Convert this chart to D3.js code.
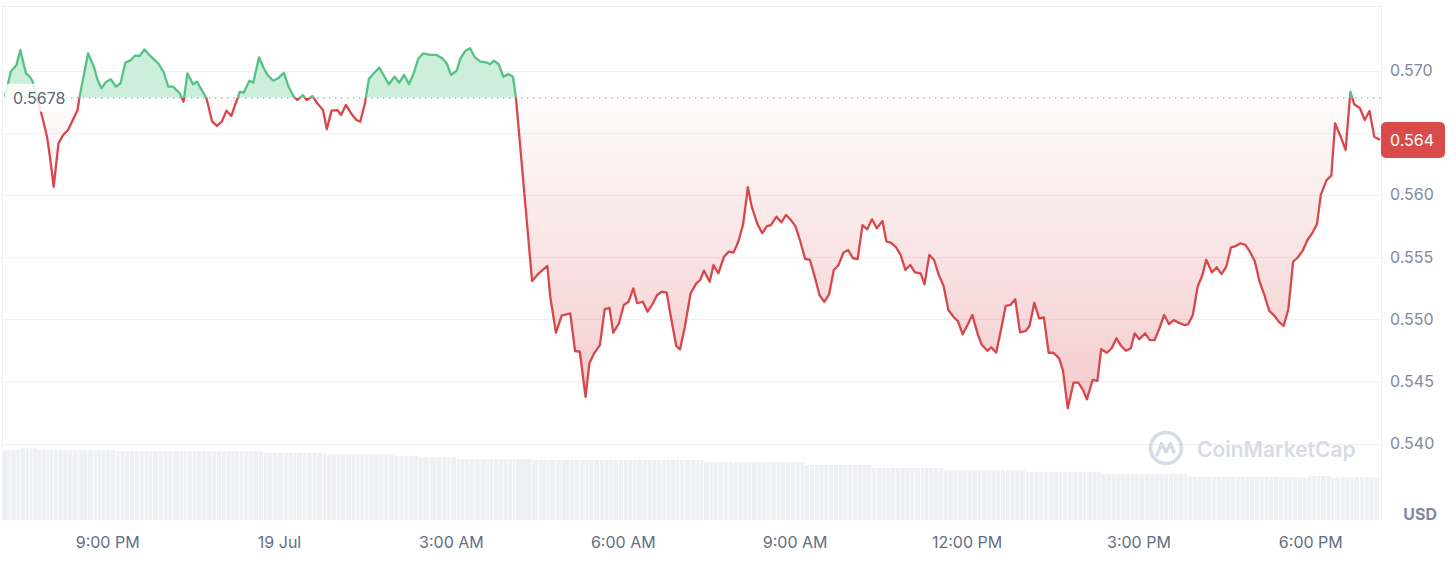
<!DOCTYPE html>
<html>
<head>
<meta charset="utf-8">
<script src="https://cdn.jsdelivr.net/npm/d3@7"></script>
<style>
  html, body { margin: 0; padding: 0; background: #ffffff; }
  svg { display: block; font-family: Inter, "Noto Sans", sans-serif; }
</style>
</head>
<body>
<script>
// ---------- DATA ----------
const startTime = new Date(2024, 6, 18, 19, 13); // 18 Jul 19:13, 24h window
const windowMinutes = 1440;
const openPrice = 0.5678;
const lastPriceLabel = "0.564";
const currencyLabel = "USD";
const watermarkText = "CoinMarketCap";

// minutes since startTime
const minutes = [
  0,6,12,16,22,26,29,34,39,44,
  47,51,56,61,66,71,76,78,87,93,
  97,101,106,111,116,121,126,131,136,141,
  146,151,155,161,166,171,176,183,187,191,
  197,201,206,211,217,222,227,232,237,241,
  246,250,256,260,266,271,275,281,286,292,
  297,302,306,312,316,322,327,333,337,342,
  348,352,357,363,368,372,377,381,386,392,
  397,402,408,413,418,423,428,433,438,445,
  452,458,463,467,473,477,482,487,492,498,
  505,508,512,517,522,527,532,535,552,559,
  568,571,577,583,592,597,602,608,612,617,
  623,628,633,637,643,648,653,658,662,668,
  673,678,683,688,693,697,703,707,712,718,
  724,728,732,738,742,747,753,758,763,768,
  773,778,782,788,793,798,802,808,813,818,
  823,828,833,838,843,848,853,858,863,868,
  873,878,883,888,893,898,903,908,913,919,
  923,928,933,938,943,948,953,959,963,968,
  973,978,983,988,994,998,1003,1008,1013,1019,
  1023,1029,1033,1038,1043,1048,1053,1058,1063,1069,
  1073,1078,1083,1088,1093,1098,1104,1108,1113,1119,
  1124,1129,1133,1139,1144,1148,1154,1159,1164,1169,
  1174,1179,1183,1188,1194,1199,1204,1209,1214,1219,
  1224,1229,1235,1239,1244,1249,1254,1258,1264,1269,
  1274,1279,1284,1289,1294,1299,1304,1309,1314,1319,
  1324,1329,1334,1339,1344,1349,1354,1359,1364,1369,
  1374,1378,1384,1389,1393,1399,1404,1409,1413,1419,
  1424,1429,1434,1440
];

const prices = [
  0.56789,0.56990,0.57044,0.57165,0.56977,0.56950,0.56910,0.56763,0.56628,0.56468,
  0.56307,0.56065,0.56414,0.56481,0.56521,0.56602,0.56682,0.56784,0.57138,0.57031,
  0.56924,0.56857,0.56910,0.56929,0.56870,0.56897,0.57063,0.57079,0.57119,0.57117,
  0.57170,0.57125,0.57098,0.57052,0.56990,0.56870,0.56870,0.56817,0.56749,0.56977,
  0.56889,0.56910,0.56843,0.56776,0.56588,0.56554,0.56588,0.56677,0.56634,0.56723,
  0.56830,0.56821,0.56918,0.56902,0.57106,0.57018,0.56964,0.56918,0.56937,0.56982,
  0.56870,0.56795,0.56763,0.56801,0.56763,0.56795,0.56736,0.56682,0.56527,0.56677,
  0.56682,0.56642,0.56723,0.56650,0.56602,0.56588,0.56736,0.56929,0.56976,0.57023,
  0.56956,0.56889,0.56950,0.56902,0.56964,0.56891,0.56977,0.57098,0.57138,0.57125,
  0.57125,0.57098,0.57052,0.56964,0.56998,0.57098,0.57157,0.57179,0.57106,0.57071,
  0.57063,0.57050,0.57079,0.57050,0.56950,0.56972,0.56950,0.56787,0.55307,0.55369,
  0.55428,0.55181,0.54891,0.55028,0.55047,0.54744,0.54738,0.54376,0.54645,0.54725,
  0.54792,0.55079,0.55092,0.54891,0.54967,0.55114,0.55140,0.55248,0.55128,0.55140,
  0.55060,0.55120,0.55194,0.55221,0.55213,0.55034,0.54784,0.54758,0.54939,0.55208,
  0.55288,0.55315,0.55390,0.55301,0.55436,0.55369,0.55502,0.55543,0.55535,0.55623,
  0.55763,0.56061,0.55905,0.55765,0.55691,0.55749,0.55757,0.55824,0.55779,0.55838,
  0.55798,0.55744,0.55623,0.55484,0.55476,0.55342,0.55194,0.55140,0.55200,0.55395,
  0.55436,0.55535,0.55556,0.55490,0.55484,0.55757,0.55723,0.55803,0.55731,0.55790,
  0.55626,0.55613,0.55580,0.55516,0.55395,0.55436,0.55377,0.55369,0.55280,0.55516,
  0.55476,0.55355,0.55267,0.55074,0.55012,0.54985,0.54878,0.54953,0.55034,0.54873,
  0.54792,0.54746,0.54774,0.54730,0.54913,0.55106,0.55114,0.55160,0.54894,0.54905,
  0.54947,0.55132,0.55007,0.55015,0.54730,0.54730,0.54685,0.54586,0.54283,0.54489,
  0.54489,0.54430,0.54355,0.54511,0.54503,0.54758,0.54730,0.54766,0.54846,0.54784,
  0.54746,0.54766,0.54886,0.54838,0.54886,0.54832,0.54832,0.54927,0.55034,0.54961,
  0.54993,0.54972,0.54953,0.54959,0.55034,0.55261,0.55355,0.55478,0.55375,0.55417,
  0.55362,0.55422,0.55578,0.55588,0.55610,0.55597,0.55540,0.55462,0.55299,0.55194,
  0.55066,0.55031,0.54980,0.54945,0.55079,0.55462,0.55498,0.55551,0.55637,0.55691,
  0.55765,0.55999,0.56119,0.56154,0.56575,0.56463,0.56361,0.56830,0.56728,0.56696,
  0.56602,0.56674,0.56468,0.56441
];

// relative volume units
const volumes = [
  1400,1400,1400,1434,1434,1434,1434,1400,1400,1400,
  1400,1400,1400,1400,1400,1400,1400,1400,1400,1400,
  1400,1400,1400,1400,1380,1380,1380,1380,1380,1380,
  1380,1380,1380,1380,1380,1380,1380,1380,1380,1380,
  1380,1380,1380,1380,1380,1380,1380,1380,1380,1380,
  1380,1380,1380,1380,1380,1346,1346,1346,1346,1346,
  1346,1346,1346,1346,1346,1346,1346,1346,1314,1314,
  1314,1314,1314,1314,1314,1314,1314,1314,1314,1314,
  1314,1314,1286,1286,1286,1286,1286,1254,1254,1254,
  1254,1254,1254,1254,1220,1220,1220,1220,1220,1220,
  1220,1220,1220,1220,1220,1220,1220,1220,1200,1200,
  1200,1200,1200,1200,1200,1200,1200,1200,1200,1200,
  1200,1200,1200,1200,1200,1200,1200,1200,1200,1200,
  1200,1200,1200,1200,1200,1200,1200,1200,1200,1200,
  1200,1200,1160,1160,1160,1160,1160,1160,1160,1160,
  1160,1160,1160,1160,1160,1160,1160,1160,1160,1160,
  1160,1160,1160,1100,1100,1100,1100,1100,1100,1100,
  1100,1100,1100,1100,1100,1100,1100,1040,1040,1040,
  1040,1040,1040,1040,1040,1040,1040,1040,1040,1040,
  1040,1040,1000,1000,1000,1000,1000,1000,1000,1000,
  1000,1000,1000,1000,1000,1000,1000,1000,1000,960,
  960,960,960,960,960,960,960,960,960,960,
  960,960,960,960,960,920,920,920,920,920,
  920,920,920,920,920,920,920,920,920,920,
  920,920,920,866,866,866,866,866,866,866,
  866,866,866,866,866,866,866,866,866,866,
  866,866,854,854,854,854,854,854,880,880,
  880,880,880,854,854,854,854,854,854,854,
  854,854,854,854
];

const yTicks = [0.540, 0.545, 0.550, 0.555, 0.560, 0.565, 0.570];
// 0.565 label is hidden behind the current-price tag in the reference
const yLabelTicks = [0.540, 0.545, 0.550, 0.555, 0.560, 0.570];
const xTickTimes = ["2024-07-18 21:00","2024-07-19 00:00","2024-07-19 03:00","2024-07-19 06:00",
                    "2024-07-19 09:00","2024-07-19 12:00","2024-07-19 15:00","2024-07-19 18:00"];
const xTickLabels = ["9:00 PM","19 Jul","3:00 AM","6:00 AM","9:00 AM","12:00 PM","3:00 PM","6:00 PM"];

// ---------- CHART ----------
const W = 1456, H = 578;
const GREEN = "#54c185", GREEN_FILL = "#cdeedb", RED = "#d8474b";
const parseT = d3.timeParse("%Y-%m-%d %H:%M");
const endTime = new Date(startTime.getTime() + windowMinutes * 60000);

const n = Math.min(minutes.length, prices.length);
const data = d3.range(n).map(i => ({
  date: new Date(startTime.getTime() + minutes[i] * 60000),
  p: prices[i],
  v: volumes[i] !== undefined ? volumes[i] : volumes[volumes.length - 1]
}));

const x = d3.scaleTime().domain([startTime, endTime]).range([5, 1380]);
const y = d3.scaleLinear().domain([0.540, 0.570]).range([443.5, 70.5]);
const yVol = d3.scaleLinear().domain([0, 1500]).range([520, 445]);
const yBase = y(openPrice);

const svg = d3.select("body").append("svg").attr("width", W).attr("height", H);
const defs = svg.append("defs");

defs.append("clipPath").attr("id", "clipAbove")
  .append("rect").attr("x", 0).attr("y", 0).attr("width", W).attr("height", yBase);
defs.append("clipPath").attr("id", "clipBelow")
  .append("rect").attr("x", 0).attr("y", yBase).attr("width", W).attr("height", H - yBase);

const grad = defs.append("linearGradient").attr("id", "redGrad")
  .attr("gradientUnits", "userSpaceOnUse")
  .attr("x1", 0).attr("x2", 0).attr("y1", yBase).attr("y2", y(0.5430));
grad.append("stop").attr("offset", "0%").attr("stop-color", RED).attr("stop-opacity", 0.02);
grad.append("stop").attr("offset", "100%").attr("stop-color", RED).attr("stop-opacity", 0.28);

// frame
const frame = svg.append("g").attr("stroke", "#eceff3").attr("stroke-width", 1);
frame.append("line").attr("x1", 2).attr("x2", 1382).attr("y1", 6.5).attr("y2", 6.5);
frame.append("line").attr("x1", 2.5).attr("x2", 2.5).attr("y1", 6).attr("y2", 520);
frame.append("line").attr("x1", 1381.5).attr("x2", 1381.5).attr("y1", 6).attr("y2", 520);

// gridlines
svg.append("g").selectAll("line").data(yTicks).join("line")
  .attr("x1", 3).attr("x2", 1381)
  .attr("y1", d => Math.round(y(d)) + 0.5).attr("y2", d => Math.round(y(d)) + 0.5)
  .attr("stroke", "#eff1f4").attr("stroke-width", 1);

// volume bars
svg.append("g").selectAll("rect").data(data).join("rect")
  .attr("x", (d, i) => i === 0 ? 3 : x(d.date))
  .attr("width", (d, i) => {
    const left = i === 0 ? 3 : x(d.date);
    const right = i < n - 1 ? x(data[i + 1].date) : 1381;
    return Math.max(0.5, right - left - 0.7);
  })
  .attr("y", d => yVol(d.v))
  .attr("height", d => yVol(0) - yVol(d.v))
  .attr("fill", "#eef0f4");

// areas
const area = d3.area().x(d => x(d.date)).y0(yBase).y1(d => y(d.p));
svg.append("path").datum(data).attr("d", area)
  .attr("fill", GREEN_FILL).attr("clip-path", "url(#clipAbove)");
svg.append("path").datum(data).attr("d", area)
  .attr("fill", "url(#redGrad)").attr("clip-path", "url(#clipBelow)");

// baseline dotted
svg.append("line").attr("x1", 5).attr("x2", 1381).attr("y1", yBase).attr("y2", yBase)
  .attr("stroke", "#a3a7ae").attr("stroke-width", 1.3).attr("stroke-dasharray", "1.3,4.7");

// lines
const line = d3.line().x(d => x(d.date)).y(d => y(d.p));
svg.append("path").datum(data).attr("d", line)
  .attr("fill", "none").attr("stroke", GREEN).attr("stroke-width", 2.3)
  .attr("stroke-linejoin", "round").attr("clip-path", "url(#clipAbove)");
svg.append("path").datum(data).attr("d", line)
  .attr("fill", "none").attr("stroke", RED).attr("stroke-width", 2.3)
  .attr("stroke-linejoin", "round").attr("clip-path", "url(#clipBelow)");

// open price label
svg.append("rect").attr("x", 5).attr("y", yBase - 14).attr("width", 66).attr("height", 28)
  .attr("rx", 4).attr("fill", "#ffffff").attr("fill-opacity", 0.85);
svg.append("text").attr("x", 13).attr("y", yBase).attr("dy", "0.36em")
  .attr("font-size", 16).attr("fill", "#58667e").text(d3.format(".4f")(openPrice));

// y axis
const yAxis = svg.append("g").attr("transform", "translate(1390,0)")
  .call(d3.axisRight(y).tickValues(yLabelTicks).tickFormat(d3.format(".3f")).tickSize(0).tickPadding(0));
yAxis.select(".domain").remove();
yAxis.selectAll("text").attr("font-size", 16).attr("font-family", "Inter, sans-serif").attr("fill", "#808a9d");

// x axis
const xAxis = svg.append("g").attr("transform", "translate(0,537)")
  .call(d3.axisBottom(x).tickValues(xTickTimes.map(parseT))
    .tickFormat((d, i) => xTickLabels[i]).tickSize(0).tickPadding(0));
xAxis.select(".domain").remove();
xAxis.selectAll("text").attr("font-size", 16).attr("font-family", "Inter, sans-serif").attr("fill", "#616e85");

// USD label
svg.append("text").attr("x", 1437).attr("y", 520).attr("text-anchor", "end")
  .attr("font-size", 16).attr("font-weight", 700).attr("fill", "#808a9d").text(currencyLabel);

// last price tag
const lastY = y(prices[n - 1]);
svg.append("rect").attr("x", 1381).attr("y", lastY - 18).attr("width", 64).attr("height", 36)
  .attr("rx", 5).attr("fill", "#d94b4b");
svg.append("text").attr("x", 1390).attr("y", lastY).attr("dy", "0.36em")
  .attr("font-size", 16).attr("fill", "#ffffff").text(lastPriceLabel);

// watermark
const wm = svg.append("g").attr("transform", "translate(1166,448)");
wm.append("circle").attr("r", 15.5).attr("fill", "none").attr("stroke", "#d7dbe4").attr("stroke-width", 3.6);
wm.append("path").attr("d", "M-9,7 L-4.5,-4.5 L0,4 L4.5,-4.5 L8,4")
  .attr("fill", "none").attr("stroke", "#d7dbe4").attr("stroke-width", 3.4)
  .attr("stroke-linecap", "round").attr("stroke-linejoin", "round");
svg.append("text").attr("x", 1197).attr("y", 457).attr("font-size", 21).attr("font-weight", 600)
  .attr("fill", "#d7dbe4").text(watermarkText);
</script>
</body>
</html>
